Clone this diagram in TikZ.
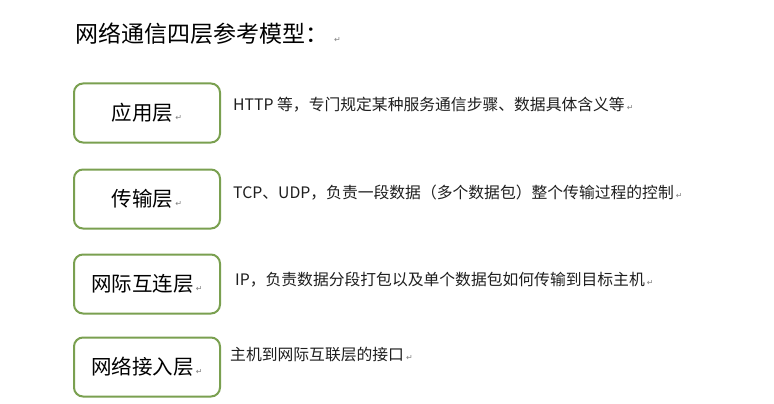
\documentclass[tikz,border=0pt]{standalone}
\usepackage{fontspec}
\usepackage{xcolor}
\setmainfont{Noto Sans CJK SC}
\newfontfamily\symfont{DejaVu Sans}
\usetikzlibrary{positioning}

\definecolor{layergreen}{RGB}{122,160,80}
\definecolor{desctext}{RGB}{30,30,30}
\newcommand{\retmark}{\hspace{2pt}{\symfont\color{gray}\fontsize{8}{8}\selectfont ↵}}

\begin{document}
\begin{tikzpicture}[x=1pt,y=1pt]
            \tikzstyle{layer} = [rectangle, draw=layergreen, line width=2pt, rounded corners=9pt, fill=white, minimum width=146pt, minimum height=59pt, text centered, font=\fontsize{20.5}{21}\selectfont]
            \tikzstyle{desc} = [anchor=west, inner sep=0pt, text=desctext, font=\fontsize{15.8}{16}\selectfont]

            \useasboundingbox (0,0) rectangle (774,-404);

            \node [anchor=west, inner sep=0pt, font=\fontsize{23}{23}\selectfont] (title) at (75,-34) {网络通信四层参考模型：\hspace{4pt}\retmark};

            \node [layer] (app) at (147,-113) {应用层\retmark};
            \node [layer] (trans) at (147,-199) {传输层\retmark};
            \node [layer] (inet) at (147,-284) {网际互连层\retmark};
            \node [layer] (link) at (147,-367) {网络接入层\retmark};

            \node [desc, right=12pt of app, yshift=8pt] (appdesc) {HTTP 等，专门规定某种服务通信步骤、数据具体含义等\retmark};
            \node [desc, right=12pt of trans, yshift=6pt] (transdesc) {TCP、UDP，负责一段数据（多个数据包）整个传输过程的控制\retmark};
            \node [desc, right=14pt of inet, yshift=4pt] (inetdesc) {IP，负责数据分段打包以及单个数据包如何传输到目标主机\retmark};
            \node [desc, right=9pt of link, yshift=12pt] (linkdesc) {主机到网际互联层的接口\retmark};
        \end{tikzpicture}
\end{document}
